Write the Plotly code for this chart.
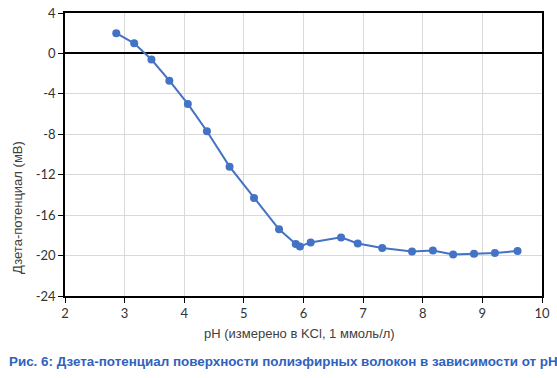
import plotly.graph_objects as go

ph = [2.86, 3.16, 3.45, 3.75, 4.06, 4.38, 4.76, 5.17, 5.59, 5.87, 5.94, 6.12,
      6.63, 6.91, 7.32, 7.82, 8.17, 8.51, 8.86, 9.21, 9.59]
zeta = [2.0, 1.0, -0.6, -2.7, -5.0, -7.7, -11.2, -14.3, -17.4, -18.85, -19.1, -18.7,
        -18.2, -18.8, -19.25, -19.6, -19.5, -19.9, -19.83, -19.74, -19.55]

x_ticks = [2, 3, 4, 5, 6, 7, 8, 9, 10]
y_ticks = [4, 0, -4, -8, -12, -16, -20, -24]

x_title = "pH (измерено в KCl, 1 ммоль/л)"
y_title = "Дзета-потенциал (мВ)"
caption = "Рис. 6: Дзета-потенциал поверхности полиэфирных волокон в зависимости от pH"

fig = go.Figure()
fig.add_trace(go.Scatter(
    x=ph, y=zeta, mode="lines+markers",
    line=dict(color="#4472C4", width=2),
    marker=dict(color="#4472C4", size=8),
    showlegend=False,
))

tick_font = dict(family="Lato, Open Sans, sans-serif", size=13, color="#333333")
title_font = dict(family="Liberation Sans, Arial, sans-serif", size=13, color="#404040")

W, H = 557, 378
L, R, T, B = 65, 15, 13, 82
pw, ph_ = W - L - R, H - T - B


def px(xp):
    return (xp - L) / pw


def py(yp):
    return (H - B - yp) / ph_


fig.update_layout(
    width=W, height=H,
    margin=dict(l=L, r=R, t=T, b=B),
    paper_bgcolor="white", plot_bgcolor="white",
    font=title_font,
    xaxis=dict(
        range=[2, 10], tickvals=x_ticks, ticktext=[str(v) for v in x_ticks],
        showgrid=True, gridcolor="#D9D9D9", gridwidth=1,
        showline=True, linecolor="#000000", linewidth=1.5, mirror=True,
        ticks="outside", ticklen=5, tickcolor="#000000",
        tickfont=tick_font, zeroline=False, automargin=False,
    ),
    yaxis=dict(
        range=[-24, 4], tickvals=y_ticks, ticktext=[str(v) for v in y_ticks],
        showgrid=True, gridcolor="#D9D9D9", gridwidth=1,
        showline=True, linecolor="#000000", linewidth=1.5, mirror=True,
        ticks="outside", ticklen=5, tickcolor="#000000",
        tickfont=tick_font, automargin=False,
        zeroline=True, zerolinecolor="#000000", zerolinewidth=1.5,
    ),
    annotations=[
        dict(text=y_title, xref="paper", yref="paper", x=px(17), y=py(208),
             xanchor="center", yanchor="middle", textangle=-90, showarrow=False,
             font=title_font),
        dict(text=x_title, xref="paper", yref="paper", x=px(299), y=py(333),
             xanchor="center", yanchor="middle", showarrow=False,
             font=title_font),
        dict(text="<b>" + caption + "</b>", xref="paper", yref="paper",
             x=px(7), y=py(362), xanchor="left", yanchor="middle",
             showarrow=False,
             font=dict(family="Liberation Sans, Arial, sans-serif", size=13.4,
                       color="#2E62C0")),
    ],
)

fig.write_html("out.html",
               config={"displayModeBar": False},
               post_script="document.body.style.margin='0';document.body.style.overflow='hidden';")
